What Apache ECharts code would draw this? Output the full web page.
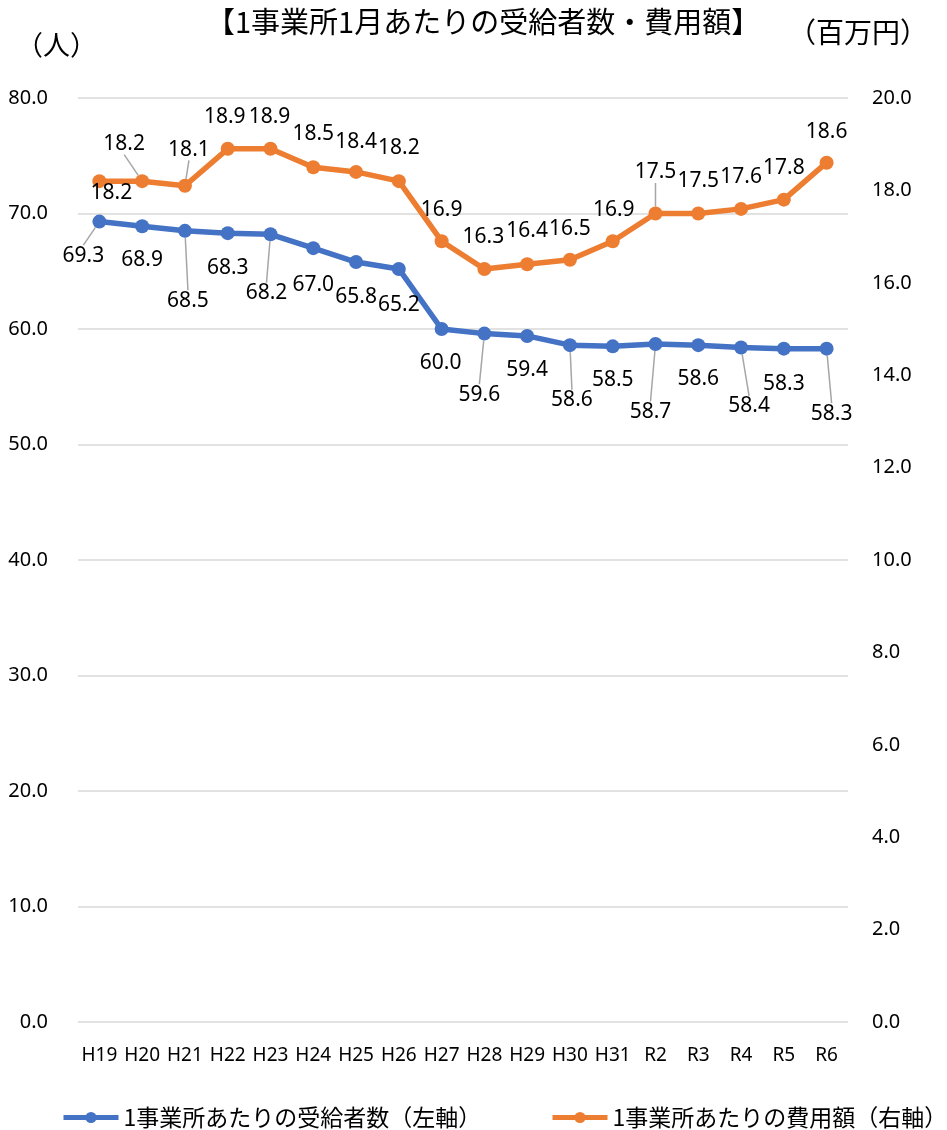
<!DOCTYPE html>
<html>
<head>
<meta charset="utf-8">
<script src="https://cdn.jsdelivr.net/npm/echarts@6/dist/echarts.min.js"></script>
<style>
  html, body { margin: 0; padding: 0; background: #fff; }
  #chart { width: 947px; height: 1130px; }
</style>
</head>
<body>
<div id="chart"></div>
<script>
// Fiscal years (Heisei / Reiwa)
const categories = ['H19','H20','H21','H22','H23','H24','H25','H26','H27','H28','H29','H30','H31','R2','R3','R4','R5','R6'];
// Recipients per office per month (persons, left axis)
const recipients = [69.3,68.9,68.5,68.3,68.2,67.0,65.8,65.2,60.0,59.6,59.4,58.6,58.5,58.7,58.6,58.4,58.3,58.3];
// Cost per office per month (million yen, right axis)
const costs = [18.2,18.2,18.1,18.9,18.9,18.5,18.4,18.2,16.9,16.3,16.4,16.5,16.9,17.5,17.5,17.6,17.8,18.6];
// Axis tick values
const leftTicks = { min: 0, max: 80, step: 10 };
const rightTicks = { min: 0, max: 20, step: 2 };
// Series names
const recipientName = '1事業所あたりの受給者数（左軸）';
const costName = '1事業所あたりの費用額（右軸）';

// Label placement relative to each marker centre [dx, dy], and which labels get a leader line
const recipientLabelShift = [[-16,34],[0,34],[3,70],[0,35],[-4,59],[0,37],[0,35],[0,36],[-1,34],[-5,61],[0,34],[2,55],[0,34],[-5,68],[0,34],[8,59],[0,35],[5,65]];
const recipientLeaders = [0,2,4,9,11,13,15,17];
const costLabelShift = [[12,12],[-18,-37],[4,-36],[-3,-32],[-1,-32],[0,-33],[0,-30],[0,-33],[0,-31],[-1,-32],[0,-33],[0,-31],[1,-31],[0,-41],[0,-32],[0,-32],[0,-32],[0,-31]];
const costLeaders = [1,2,13];

const FONT = '"Noto Sans", "Noto Sans CJK JP", sans-serif';
const CJK = '"Noto Sans CJK JP", "Noto Sans", sans-serif';

function buildItems(values, leaders) {
  return values.map((v, i) => ({
    value: v,
    labelLine: { show: leaders.indexOf(i) >= 0 }
  }));
}

// Places each value label at a fixed shift from its marker centre
function shiftLayout(shifts) {
  return function (params) {
    const r = params.rect;
    const d = shifts[params.dataIndex];
    return {
      x: r.x + r.width / 2 + d[0],
      y: r.y + r.height / 2 + d[1],
      align: 'center',
      verticalAlign: 'middle'
    };
  };
}

const labelStyle = {
  show: true,
  position: 'inside',
  color: '#000',
  fontFamily: FONT,
  fontSize: 21,
  textBorderWidth: 0,
  formatter: p => Number(p.value).toFixed(1)
};
const leaderStyle = { show: false, lineStyle: { color: '#a6a6a6', width: 1.5 } };

function legendAt(left, name) {
  return {
    left: left,
    top: 1101,
    itemWidth: 55,
    itemHeight: 14,
    lineStyle: { width: 5 },
    textStyle: { fontFamily: CJK, fontSize: 23, color: '#000' },
    data: [name]
  };
}

const chart = echarts.init(document.getElementById('chart'), null, { renderer: 'canvas' });

chart.setOption({
  animation: false,
  backgroundColor: '#fff',
  title: {
    text: '【1事業所1月あたりの受給者数・費用額】',
    left: 201,
    top: 2,
    textStyle: { fontFamily: CJK, fontSize: 29, fontWeight: 'normal', color: '#000' }
  },
  graphic: [
    { type: 'text', left: 16, top: 31, style: { text: '（人）', fontFamily: CJK, fontSize: 27, fill: '#000' } },
    { type: 'text', left: 788, top: 18, style: { text: '（百万円）', fontFamily: CJK, fontSize: 28, fill: '#000' } }
  ],
  legend: [legendAt(56, recipientName), legendAt(545, costName)],
  grid: { left: 78, right: 99, top: 98, bottom: 108, containLabel: false },
  xAxis: {
    type: 'category',
    data: categories,
    boundaryGap: true,
    axisLine: { show: false },
    axisTick: { show: false },
    axisLabel: { fontFamily: FONT, fontSize: 19, color: '#000', margin: 24, interval: 0 }
  },
  yAxis: [
    {
      type: 'value',
      min: leftTicks.min, max: leftTicks.max, interval: leftTicks.step,
      axisLine: { show: false }, axisTick: { show: false },
      axisLabel: { fontFamily: FONT, fontSize: 20, color: '#000', margin: 30, formatter: v => v.toFixed(1) },
      splitLine: { lineStyle: { color: '#d9d9d9', width: 1.5 } }
    },
    {
      type: 'value',
      min: rightTicks.min, max: rightTicks.max, interval: rightTicks.step,
      axisLine: { show: false }, axisTick: { show: false },
      axisLabel: { fontFamily: FONT, fontSize: 20, color: '#000', margin: 24, formatter: v => v.toFixed(1) },
      splitLine: { show: false }
    }
  ],
  series: [
    {
      name: recipientName,
      type: 'line',
      yAxisIndex: 0,
      data: buildItems(recipients, recipientLeaders),
      symbol: 'circle',
      symbolSize: 14,
      color: '#4472C4',
      lineStyle: { width: 5.5, color: '#4472C4' },
      itemStyle: { color: '#4472C4' },
      label: labelStyle,
      labelLayout: shiftLayout(recipientLabelShift),
      labelLine: leaderStyle
    },
    {
      name: costName,
      type: 'line',
      yAxisIndex: 1,
      data: buildItems(costs, costLeaders),
      symbol: 'circle',
      symbolSize: 14,
      color: '#ED7D31',
      lineStyle: { width: 5.5, color: '#ED7D31' },
      itemStyle: { color: '#ED7D31' },
      label: labelStyle,
      labelLayout: shiftLayout(costLabelShift),
      labelLine: leaderStyle
    }
  ]
});
</script>
</body>
</html>
